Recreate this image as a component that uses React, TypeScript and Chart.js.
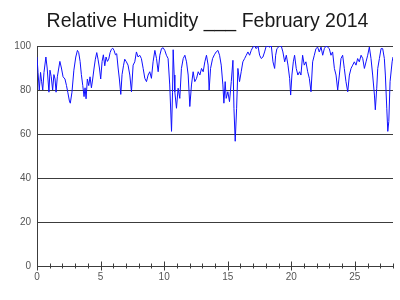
import React, { useEffect, useRef } from "react";
import { Chart, registerables } from "chart.js";

Chart.register(...registerables);

const TITLE = "Relative Humidity ___ February 2014";
const yTicks = [0, 20, 40, 60, 80, 100];
const xLabelDays = [0, 5, 10, 15, 20, 25];

const days = [
  0.0, 0.08, 0.18, 0.28, 0.36, 0.45, 0.55, 0.7, 0.8, 0.94, 1.02, 1.12, 1.23, 1.33, 1.42, 1.5, 1.6, 1.8, 1.92, 2.05,
  2.2, 2.32, 2.42, 2.55, 2.62, 2.75, 2.9, 3.05, 3.18, 3.28, 3.39, 3.49, 3.6, 3.7, 3.78, 3.86, 3.96, 4.07, 4.17, 4.28,
  4.38, 4.49, 4.59, 4.7, 4.8, 4.91, 5.01, 5.12, 5.22, 5.33, 5.43, 5.54, 5.64, 5.75, 5.85, 5.96, 6.06, 6.17, 6.27, 6.38,
  6.48, 6.59, 6.69, 6.8, 6.9, 7.03, 7.16, 7.3, 7.43, 7.56, 7.69, 7.82, 7.95, 8.08, 8.21, 8.35, 8.48, 8.61, 8.74, 8.87,
  9.0, 9.13, 9.27, 9.4, 9.53, 9.66, 9.79, 9.92, 10.05, 10.18, 10.31, 10.44, 10.58, 10.66, 10.71, 10.79, 10.84, 10.97, 11.1, 11.23,
  11.36, 11.5, 11.63, 11.76, 11.89, 12.02, 12.15, 12.28, 12.41, 12.55, 12.68, 12.81, 12.94, 13.07, 13.2, 13.33, 13.46, 13.54, 13.65, 13.81,
  13.95, 14.09, 14.23, 14.36, 14.49, 14.62, 14.7, 14.8, 14.88, 15.01, 15.14, 15.28, 15.41, 15.49, 15.59, 15.7, 15.8, 15.93, 16.06, 16.19,
  16.33, 16.46, 16.59, 16.72, 16.85, 16.98, 17.11, 17.24, 17.38, 17.51, 17.64, 17.77, 17.9, 18.03, 18.16, 18.29, 18.43, 18.56, 18.69, 18.77,
  18.87, 19.08, 19.21, 19.34, 19.48, 19.61, 19.74, 19.87, 19.95, 20.05, 20.16, 20.26, 20.39, 20.52, 20.65, 20.76, 20.89, 21.02, 21.15, 21.29,
  21.42, 21.55, 21.68, 21.81, 21.94, 22.07, 22.2, 22.34, 22.47, 22.6, 22.73, 22.86, 22.99, 23.12, 23.25, 23.39, 23.52, 23.65, 23.78, 23.91,
  24.04, 24.17, 24.3, 24.44, 24.57, 24.7, 24.83, 24.96, 25.09, 25.22, 25.35, 25.49, 25.62, 25.75, 25.88, 26.01, 26.14, 26.27, 26.4, 26.54,
  26.61, 26.72, 26.8, 26.93, 27.06, 27.19, 27.32, 27.4, 27.51, 27.59, 27.67, 27.77, 27.93, 28.0,
];

const rh = [
  95, 88, 80, 88, 84, 80, 88, 95, 90, 79, 89, 86, 80, 87, 85, 79, 86, 93, 90, 86,
  85, 82, 79, 75, 74, 79, 89, 95, 98, 97, 93, 87, 82, 77, 81, 76, 85, 82, 86, 81,
  85, 90, 94, 97, 94, 90, 85, 93, 96, 91, 95, 93, 94, 97, 98.5, 99, 98, 96, 96.5, 90,
  85, 78, 87, 91, 94, 92.8, 91.3, 86.8, 79.2, 91.3, 92.8, 97.3, 95, 95.8, 94.3, 89.8, 85.3, 83.8, 86.8, 88.3,
  85.3, 92.8, 98, 94.3, 88.3, 95.8, 98.8, 99.2, 98, 95.8, 94.3, 82.3, 61.2, 79, 98.3, 86.8, 79.2, 71.7, 80.8, 76.2,
  89.8, 94.3, 95.8, 92.8, 86.8, 72.5, 82.3, 88.3, 83.8, 85.3, 88.3, 86.8, 89.8, 88.3, 92.8, 95.8, 91.3, 80, 89.8, 94.3,
  96, 97.3, 98, 95.8, 91.3, 82.3, 74, 83.8, 76.2, 79.2, 74.7, 83.8, 93.5, 71.7, 56.7, 71.7, 89.8, 83.8, 88.3, 92.8,
  94.3, 95.8, 97.3, 95.8, 98, 99.5, 100, 98.8, 100, 95.8, 94.3, 95, 97.3, 100, 100, 99.5, 100, 92.8, 89.8, 95.8,
  98.8, 100, 100, 97.3, 92.8, 95.8, 91.3, 85.3, 77.7, 86.8, 92.8, 95.8, 89.8, 86.8, 88.3, 86.8, 95.8, 91.3, 92.8, 88.3,
  85.3, 79.2, 92.8, 95.8, 98.8, 99.5, 97.3, 99.5, 95.8, 98.8, 100, 99.5, 98.8, 95.8, 97.3, 89.8, 86.8, 80, 86.8, 94.3,
  95.8, 89.8, 83.8, 79.2, 86.8, 89.8, 91.3, 92.8, 91.3, 94.3, 92.8, 95.8, 94.3, 89.8, 92.8, 95.8, 99.5, 94.3, 86.8, 77.7,
  71, 80.8, 89.8, 94.3, 98.8, 98.8, 94.3, 86.8, 71.7, 61.2, 65.7, 83.8, 92.8, 95,
];

const AXIS_COLOR = "#3c3c3c";
const LABEL_COLOR = "#555555";
const FONT = "'Liberation Sans', Arial, sans-serif";

const dayTicksPlugin = {
  id: "dayTicks",
  afterDraw(chart: any) {
    const sx = chart.scales.x;
    const y0 = chart.chartArea.bottom;
    const ctx = chart.ctx;
    ctx.save();
    ctx.strokeStyle = AXIS_COLOR;
    ctx.lineWidth = 1;
    for (const t of sx.ticks) {
      const px = Math.round(sx.getPixelForValue(t.value)) + 0.5;
      const h = t.value % 5 === 0 ? 4.5 : 2.5;
      ctx.beginPath();
      ctx.moveTo(px, Math.round(y0) - h);
      ctx.lineTo(px, Math.round(y0) + h);
      ctx.stroke();
    }
    ctx.restore();
  },
};

export default function App() {
  const ref = useRef<HTMLCanvasElement | null>(null);

  useEffect(() => {
    if (!ref.current) return;
    const points = days.map((d, i) => ({ x: d, y: rh[i] }));
    const chart = new Chart(ref.current, {
      type: "line",
      data: {
        datasets: [
          {
            data: points,
            borderColor: "#1010ff",
            borderWidth: 1,
            pointRadius: 0,
            tension: 0,
            fill: false,
          },
        ],
      },
      options: {
        responsive: false,
        animation: false,
        layout: { padding: { left: 15, right: 0, top: 0, bottom: 0 } },
        plugins: {
          legend: { display: false },
          tooltip: { enabled: false },
          title: {
            display: true,
            text: TITLE,
            color: "#1a1a1a",
            font: { family: FONT, size: 19.5, weight: "normal" },
            padding: { top: 10, bottom: 12.6 },
          },
        },
        scales: {
          x: {
            type: "linear",
            min: 0,
            max: 28,
            afterFit: (s: any) => {
              s.height = 34;
            },
            ticks: {
              stepSize: 1,
              autoSkip: false,
              maxRotation: 0,
              padding: 5,
              color: LABEL_COLOR,
              font: { family: FONT, size: 10 },
              callback: (v: any) => (xLabelDays.includes(Number(v)) ? String(v) : ""),
            },
            grid: { display: true, drawOnChartArea: false, drawTicks: false },
            border: { display: true, color: AXIS_COLOR, width: 1 },
          },
          y: {
            min: 0,
            max: 100,
            afterFit: (s: any) => {
              s.width = 22;
            },
            afterBuildTicks: (s: any) => {
              s.ticks = yTicks.map((v) => ({ value: v }));
            },
            ticks: {
              padding: 6,
              color: LABEL_COLOR,
              font: { family: FONT, size: 10 },
            },
            grid: { color: AXIS_COLOR, drawTicks: false, lineWidth: 1 },
            border: { display: true, color: AXIS_COLOR, width: 1 },
          },
          yRight: {
            position: "right",
            min: 0,
            max: 100,
            afterFit: (s: any) => {
              s.width = 7;
            },
            ticks: { display: false },
            grid: { display: false, drawTicks: false },
            border: { display: false },
          },
        },
      },
      plugins: [dayTicksPlugin],
    });
    return () => chart.destroy();
  }, []);

  return (
    <div style={{ position: "fixed", left: 0, top: 0, width: 400, height: 300, background: "#fff" }}>
      <canvas ref={ref} width={400} height={300} />
    </div>
  );
}
